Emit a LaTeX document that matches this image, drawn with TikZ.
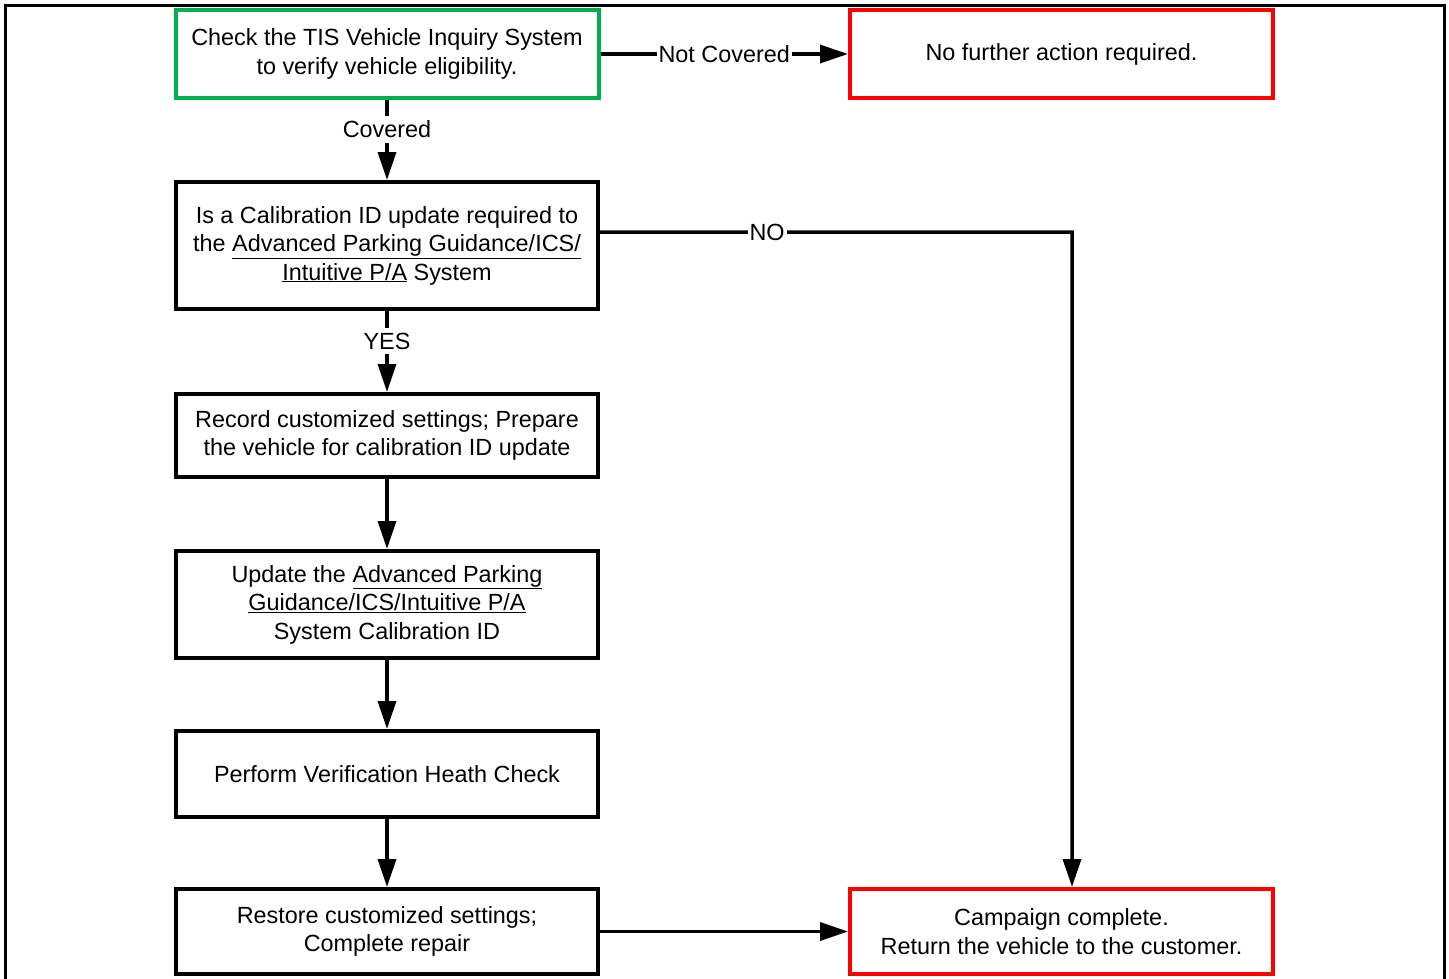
\documentclass[tikz,border=0pt]{standalone}
\usepackage{fontspec}
\setmainfont{Liberation Sans}
\usetikzlibrary{arrows.meta}
\definecolor{boxgreen}{RGB}{0,176,80}
\definecolor{boxred}{RGB}{255,0,0}
\tikzset{
  flowbox/.style={draw=black, line width=4bp, minimum width=422bp, align=center,
    inner sep=0pt, text=black, font=\fontsize{23.4bp}{28.5bp}\selectfont},
  greenbox/.style={draw=boxgreen},
  redbox/.style={draw=boxred},
  conn/.style={line width=3.5bp, -{Triangle[length=28bp,width=18bp]}},
  lbl/.style={fill=white, inner xsep=2bp, inner ysep=5bp, text=black, font=\fontsize{23.4bp}{28bp}\selectfont},
  framestyle/.style={line width=3bp, draw=black}
}
\begin{document}
\begin{tikzpicture}[x=1bp,y=-1bp]
\useasboundingbox (0,0) rectangle (1449,978);
\fill[white] (0,0) rectangle (1449,978);
\draw[framestyle] (5,995) -- (5,5) -- (1444,5) -- (1444,995);

\node[flowbox, greenbox, minimum width=423bp, minimum height=88bp] (check) at (387,54)
  {Check the TIS Vehicle Inquiry System\\to verify vehicle eligibility.};
\node[flowbox, redbox, minimum width=423bp, minimum height=88bp] (nofurther) at (1061.5,54)
  {No further action required.};
\node[flowbox, minimum height=127bp] (calq) at (387,245.5)
  {Is a Calibration ID update required to\\the \underline{Advanced Parking Guidance/ICS/}\\\underline{Intuitive P/A} System};
\node[flowbox, minimum height=83bp] (record) at (387,435.5)
  {Record customized settings; Prepare\\the vehicle for calibration ID update};
\node[flowbox, minimum height=107bp] (update) at (387,604.5)
  {Update the \underline{Advanced Parking}\\\underline{Guidance/ICS/Intuitive P/A}\\System Calibration ID};
\node[flowbox, minimum height=86bp] (verify) at (387,774)
  {Perform Verification Heath Check};
\node[flowbox, minimum height=85bp] (restore) at (387,931.5)
  {Restore customized settings;\\Complete repair};
\node[flowbox, redbox, minimum width=423bp, minimum height=85bp] (complete) at (1061.5,931.5)
  {Campaign complete.\\Return the vehicle to the customer.};

\coordinate (nocorner) at (1072,232);

\draw[conn] (check.east) -- node[lbl]{Not Covered} (nofurther.west);
\draw[conn] (check.south) -- node[lbl, pos=0.37]{Covered} (calq.north);
\draw[conn] (calq.south) -- node[lbl, pos=0.37]{YES} (record.north);
\draw[conn] (record.south) -- (update.north);
\draw[conn] (update.south) -- (verify.north);
\draw[conn] (verify.south) -- (restore.north);
\draw[conn] ([yshift=13.5bp]calq.east) -- node[lbl, pos=0.354]{NO} (nocorner) -- (nocorner |- complete.north);
\draw[conn] (restore.east) -- (complete.west);
\end{tikzpicture}
\end{document}
